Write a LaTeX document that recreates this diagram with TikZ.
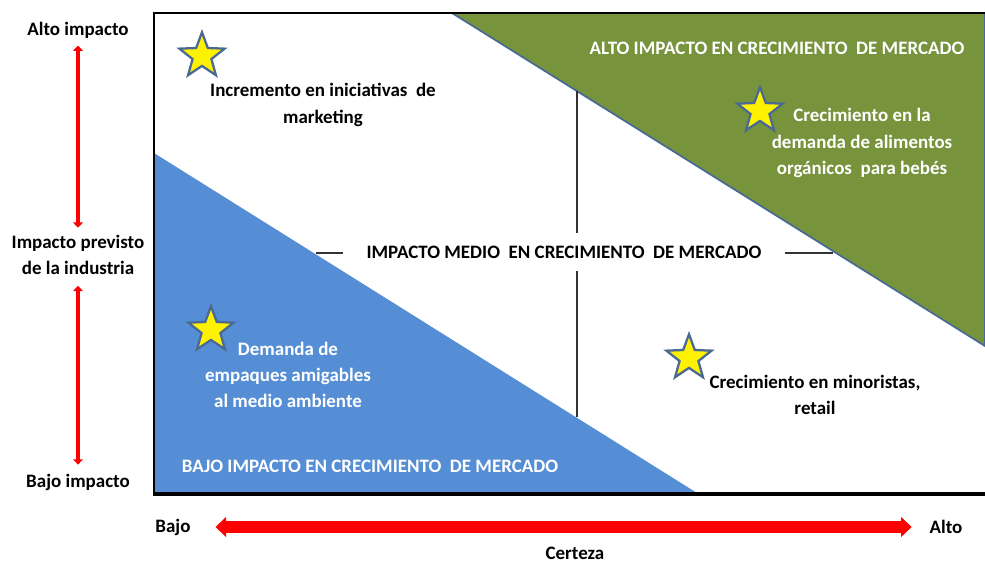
\documentclass[tikz,border=0pt]{standalone}
\usepackage{fontspec}
\setmainfont{Carlito}
\usetikzlibrary{calc,shapes.geometric,arrows.meta}
\definecolor{lowblue}{HTML}{558ED5}
\definecolor{highgreen}{HTML}{77933C}
\definecolor{starrim}{HTML}{4A6A94}
\tikzset{
	txt/.style={font=\bfseries\fontsize{10.8}{15}\selectfont, align=center, inner sep=2pt},
	wtxt/.style={txt, text=white},
	estrella/.style={star, star points=5, star point ratio=2.4, minimum size=0.95cm, inner sep=0pt, fill=yellow, draw=starrim, line width=1.3pt},
	vflecha/.style={red, line width=2.5pt, {Triangle[width=5.5pt,length=3pt]}-{Triangle[width=5.5pt,length=3pt]}},
	hflecha/.style={red, line width=7pt, {Triangle[width=11pt,length=6pt]}-{Triangle[width=11pt,length=6pt]}},
	guia/.style={line width=0.8pt, color=black!80}
}

\begin{document}
\begin{tikzpicture}[x=0.02cm, y=-0.02cm]
		%%%%% START %%%%%
		\useasboundingbox (0, 0) rectangle (985, 565);
		
		\fill[lowblue] (154, 153) -- (697, 493) -- (154, 493) -- cycle;
		\draw[fill=highgreen, draw=starrim, line width=1pt] (452, 13) -- (985, 13) -- (985, 346) -- cycle;
		
		\draw[line width=1.5pt] (985, 13) -- (154, 13) -- (154, 494);
		\draw[line width=2.3pt] (153, 494) -- (985, 494);
		
		\node[txt, inner xsep=13pt, inner ysep=7pt] (medio) at (564, 252) {IMPACTO MEDIO\ \ EN CRECIMIENTO\ \ DE MERCADO};
		\coordinate (vtop) at (577, 91);
		\coordinate (vbot) at (577, 417);
		\coordinate (hleft) at (316, 253);
		\coordinate (hright) at (833, 253);
		\draw[guia] (hleft) -- (hleft -| medio.west);
		\draw[guia] (hright -| medio.east) -- (hright);
		\draw[guia] (vtop) -- (vtop |- medio.north);
		\draw[guia] (vbot |- medio.south) -- (vbot);
		
		\node[wtxt] (altoreg) at (777, 48) {ALTO IMPACTO EN CRECIMIENTO\ \ DE MERCADO};
		\node[wtxt] (bajoreg) at (370, 466) {BAJO IMPACTO EN CRECIMIENTO\ \ DE MERCADO};
		
		\node[estrella] (s1) at (202, 56) {};
		\node[txt] (marketing) at (323, 105) {Incremento en iniciativas\ \ de\\marketing};
		\node[estrella] (s2) at (760, 111) {};
		\node[wtxt] (organicos) at (862, 143) {Crecimiento en la\\demanda de alimentos\\orgánicos\ \ para bebés};
		\node[estrella] (s3) at (211, 330) {};
		\node[wtxt] (empaques) at (288, 375) {Demanda de\\empaques amigables\\al medio ambiente};
		\node[estrella] (s4) at (689, 358) {};
		\node[txt] (minoristas) at (815, 395) {Crecimiento en minoristas,\\retail};
		
		\node[txt] (altoimp) at (78, 30) {Alto impacto};
		\node[txt] (previsto) at (78, 255) {Impacto previsto\\de la industria};
		\node[txt] (bajoimp) at (78, 482) {Bajo impacto};
		\draw[vflecha, shorten <=2pt, shorten >=2pt] (altoimp) -- (previsto);
		\draw[vflecha, shorten <=4pt, shorten >=3pt] (previsto) -- (bajoimp);
		
		\node[txt] (bajo) at (173, 527) {Bajo};
		\node[txt] (alto) at (946, 527) {Alto};
		\node[txt] (certeza) at (575, 553) {Certeza};
		\draw[hflecha, shorten <=12pt, shorten >=8pt] (bajo) -- (alto);
		
		%%%%% END %%%%%
\end{tikzpicture}
\end{document}
